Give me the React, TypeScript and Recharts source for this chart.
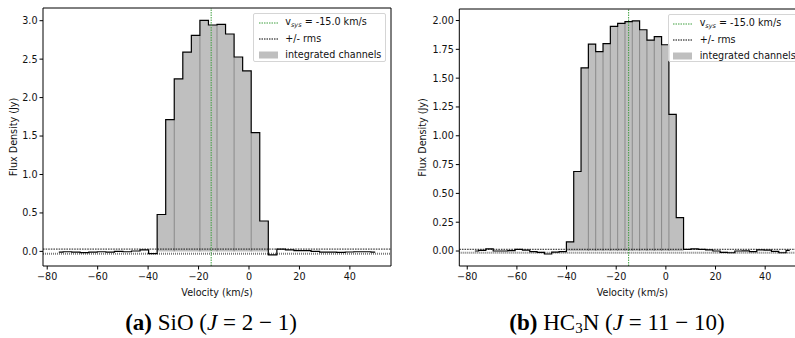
import React from 'react';
import { ComposedChart, Line, Area, XAxis, YAxis, ReferenceLine } from 'recharts';

// ---------- data ----------
const xTicks = [-80, -60, -40, -20, 0, 20, 40];
const vsys = -15.0;

// (a) SiO (J = 2-1)
const sioVelocity = [
  -75.40, -72.01, -68.62, -65.23, -61.84, -58.45, -55.06, -51.67, -48.28, -44.89, -41.50, -38.11,
  -34.72, -31.33, -27.94, -24.55, -21.16, -17.77, -14.38, -10.99, -7.60, -4.21, -0.82, 2.57, 5.96,
  9.35, 12.74, 16.13, 19.52, 22.91, 26.30, 29.69, 33.08, 36.47, 39.86, 43.25, 46.64, 50.03,
];
const sioFlux = [
  -0.01, -0.005, -0.01, -0.015, -0.01, -0.005, -0.01, 0.0, -0.005, 0.005, 0.02, -0.03,
  0.48, 1.714, 2.243, 2.59, 2.81, 3.005, 2.944, 2.953, 2.827, 2.528, 2.347, 1.545, 0.395,
  -0.045, 0.03, 0.02, 0.01, 0.01, 0.0, -0.01, -0.01, -0.012, -0.008, -0.005, -0.005, -0.01,
];
const sioIntegrated = [12, 24];
const sioEdgeLines = [13, 16, 18, 20, 22];
const sioRms = 0.03;
const sioYTicks = [0, 0.5, 1.0, 1.5, 2.0, 2.5, 3.0];

// (b) HC3N (J = 11-10)
const hc3nVelocity = [
  -76.93, -73.98, -71.03, -68.08, -65.13, -62.18, -59.23, -56.28, -53.34, -50.39, -47.44, -44.49, -41.54,
  -38.59, -35.64, -32.69, -29.74, -26.79, -23.84, -20.89, -17.94, -15.00, -12.05, -9.10, -6.15, -3.20,
  -0.25, 2.70, 5.65,
  8.60, 11.55, 14.50, 17.45, 20.40, 23.35, 26.30, 29.25, 32.19, 35.14, 38.09, 41.04, 43.99, 46.94, 49.89,
];
const hc3nFlux = [
  0.0, 0.005, 0.018, 0.0, 0.0, 0.003, 0.015, 0.008, -0.006, -0.012, -0.026, -0.01, -0.005,
  0.08, 0.69, 1.59, 1.795, 1.73, 1.80, 1.95, 1.975, 1.99, 1.997, 1.92, 1.83, 1.86, 1.79, 1.185, 0.29,
  0.015, 0.018, 0.015, 0.01, 0.0, -0.012, -0.015, 0.0, 0.002, -0.005, 0.01, 0.008, -0.003, -0.015, 0.005,
];
const hc3nIntegrated = [13, 28];
const hc3nEdgeLines = [15, 16, 17, 18, 19, 20, 21, 22, 23, 24, 25, 26];
const hc3nRms = 0.015;
const hc3nYTicks = [0, 0.25, 0.5, 0.75, 1.0, 1.25, 1.5, 1.75, 2.0];

// ---------- components ----------
const SANS = '"DejaVu Sans", sans-serif';
const FS = 9.6;

function YLabel({ lx, ly }: any) {
  return (
    <text x={lx} y={ly} transform={`rotate(-90 ${lx} ${ly})`} textAnchor="middle" dominantBaseline="central"
      fontFamily={SANS} fontSize={FS} fill="#111">Flux Density (Jy)</text>
  );
}
function XLabel({ lx, ly }: any) {
  return (
    <text x={lx} y={ly} textAnchor="middle" dominantBaseline="central" fontFamily={SANS} fontSize={FS} fill="#111">
      Velocity (km/s)
    </text>
  );
}

const fmtX = (v: number) => (v < 0 ? '\u2212' + Math.abs(v) : String(v));

function Panel(props: any) {
  const { velocity, flux, integ, edgeLines, rms, yTicks, yDomain, xDomain, width, height, margin,
    yAxisWidth, xAxisHeight, yLabelX, xLabelY, decimals } = props;
  const lineData = velocity.map((v: number, i: number) => ({ v, flux: flux[i] }));
  const dv = velocity[1] - velocity[0];
  const areaData: any[] = [];
  for (let i = integ[0]; i <= integ[1]; i++) areaData.push({ v: velocity[i] - dv / 2, fill: flux[i] });
  areaData.push({ v: velocity[integ[1]] + dv / 2, fill: flux[integ[1]] });
  const plotH = height - margin.top - margin.bottom - xAxisHeight;
  const plotW = width - margin.left - margin.right - yAxisWidth;
  const cy = margin.top + plotH / 2;
  const cx = margin.left + yAxisWidth + plotW / 2;
  const tickStyle = { fontFamily: SANS, fontSize: FS, fill: '#111' };
  return (
    <ComposedChart width={width} height={height} margin={margin}>
      <XAxis dataKey="v" type="number" domain={xDomain} ticks={xTicks} allowDataOverflow
        tickFormatter={fmtX} tick={tickStyle} tickSize={3.5} tickMargin={4}
        stroke="#000" height={xAxisHeight} interval={0}
        label={<XLabel lx={cx} ly={xLabelY} />} />
      <YAxis type="number" domain={yDomain} ticks={yTicks} allowDataOverflow
        tickFormatter={(v: number) => v.toFixed(decimals)} tick={tickStyle} tickSize={3.5} tickMargin={2}
        stroke="#000" width={yAxisWidth} interval={0}
        label={<YLabel lx={yLabelX} ly={cy} />} />
      <Area data={areaData} dataKey="fill" type="stepAfter" fill="#bfbfbf" fillOpacity={1} stroke="none"
        baseValue={0} isAnimationActive={false} dot={false} activeDot={false} />
      {edgeLines.map((i: number) => {
        const ex = (velocity[i] + velocity[i + 1]) / 2;
        return (
          <ReferenceLine key={'e' + i} segment={[{ x: ex, y: 0 }, { x: ex, y: Math.min(flux[i], flux[i + 1]) }]}
            stroke="#858585" strokeWidth={0.9} />
        );
      })}
      <ReferenceLine y={rms} stroke="#000" strokeDasharray="1.6 1" strokeWidth={0.9} />
      <ReferenceLine y={-rms} stroke="#7a7a7a" strokeDasharray="1 1" strokeWidth={2} />
      <Line data={lineData} dataKey="flux" type="step" stroke="#000" strokeWidth={1.2} dot={false}
        activeDot={false} isAnimationActive={false} />
      <ReferenceLine x={vsys} stroke="#3f9f3f" strokeDasharray="1.5 1" strokeWidth={1} />
      <ReferenceLine y={yDomain[1]} stroke="#000" strokeWidth={1} />
      <ReferenceLine x={xDomain[1]} stroke="#000" strokeWidth={1} />
    </ComposedChart>
  );
}

function LegendBox({ left, top }: any) {
  const row = (y: number, sample: React.ReactNode, label: React.ReactNode) => (
    <div style={{ position: 'absolute', left: 0, top: y - 7, height: 14, width: 200, display: 'flex', alignItems: 'center' }}>
      <svg width={19} height={14} style={{ marginLeft: 4.4, marginRight: 7.6, flex: 'none' }}>{sample}</svg>
      <span style={{ fontFamily: SANS, fontSize: FS, color: '#111', whiteSpace: 'nowrap' }}>{label}</span>
    </div>
  );
  return (
    <div style={{
      position: 'absolute', left, top, width: 132.4, height: 48.4, boxSizing: 'border-box',
      background: 'rgba(255,255,255,0.8)', border: '1px solid #d5d5d5', borderRadius: 2,
    }}>
      {row(8.7, <line x1={0} y1={7} x2={19} y2={7} stroke="#3f9f3f" strokeWidth={1} strokeDasharray="1.5 1" />,
        <span>v<sub style={{ fontStyle: 'italic', fontSize: 6.5, verticalAlign: -2 }}>sys</sub> = -15.0 km/s</span>)}
      {row(24.7, <line x1={0} y1={7} x2={19} y2={7} stroke="#000" strokeWidth={1} strokeDasharray="1.5 1" />,
        <span>+/- rms</span>)}
      {row(40.7, <rect x={0} y={3.5} width={19} height={7} fill="#bfbfbf" />, <span>integrated channels</span>)}
    </div>
  );
}

const capStyle: React.CSSProperties = {
  position: 'absolute', width: 360, textAlign: 'center', fontFamily: '"Liberation Serif", serif',
  fontSize: 23, lineHeight: '26px', color: '#000', whiteSpace: 'nowrap',
};

export default function App() {
  return (
    <div style={{ position: 'absolute', left: 0, top: 0, width: 795, height: 338, overflow: 'hidden', background: '#fff' }}>
      <div style={{ position: 'absolute', left: 0, top: 0 }}>
        <Panel velocity={sioVelocity} flux={sioFlux} integ={sioIntegrated} edgeLines={sioEdgeLines}
          rms={sioRms} yTicks={sioYTicks} yDomain={[-0.19, 3.165]} xDomain={[-81.67, 56.3]}
          width={400} height={300} margin={{ top: 8, right: 9, bottom: 0, left: 0 }}
          yAxisWidth={43} xAxisHeight={34} yLabelX={13} xLabelY={292} decimals={1} />
      </div>
      <div style={{ position: 'absolute', left: 400, top: 0 }}>
        <Panel velocity={hc3nVelocity} flux={hc3nFlux} integ={hc3nIntegrated} edgeLines={hc3nEdgeLines}
          rms={hc3nRms} yTicks={hc3nYTicks} yDomain={[-0.13, 2.1]} xDomain={[-83.2, 56.2]}
          width={410} height={300} margin={{ top: 9, right: 4.6, bottom: 0, left: 0 }}
          yAxisWidth={59.3} xAxisHeight={34} yLabelX={22.5} xLabelY={292} decimals={2} />
      </div>
      <LegendBox left={253.3} top={13.3} />
      <LegendBox left={667.7} top={14} />
      <div style={{ ...capStyle, left: 211 - 180, top: 310 }}>
        <b>(a)</b> SiO (<i>J</i> = 2 − 1)
      </div>
      <div style={{ ...capStyle, left: 617 - 180, top: 310 }}>
        <b>(b)</b> HC<sub style={{ fontSize: 15, verticalAlign: -3, lineHeight: 0 }}>3</sub>N (<i>J</i> = 11 − 10)
      </div>
    </div>
  );
}
